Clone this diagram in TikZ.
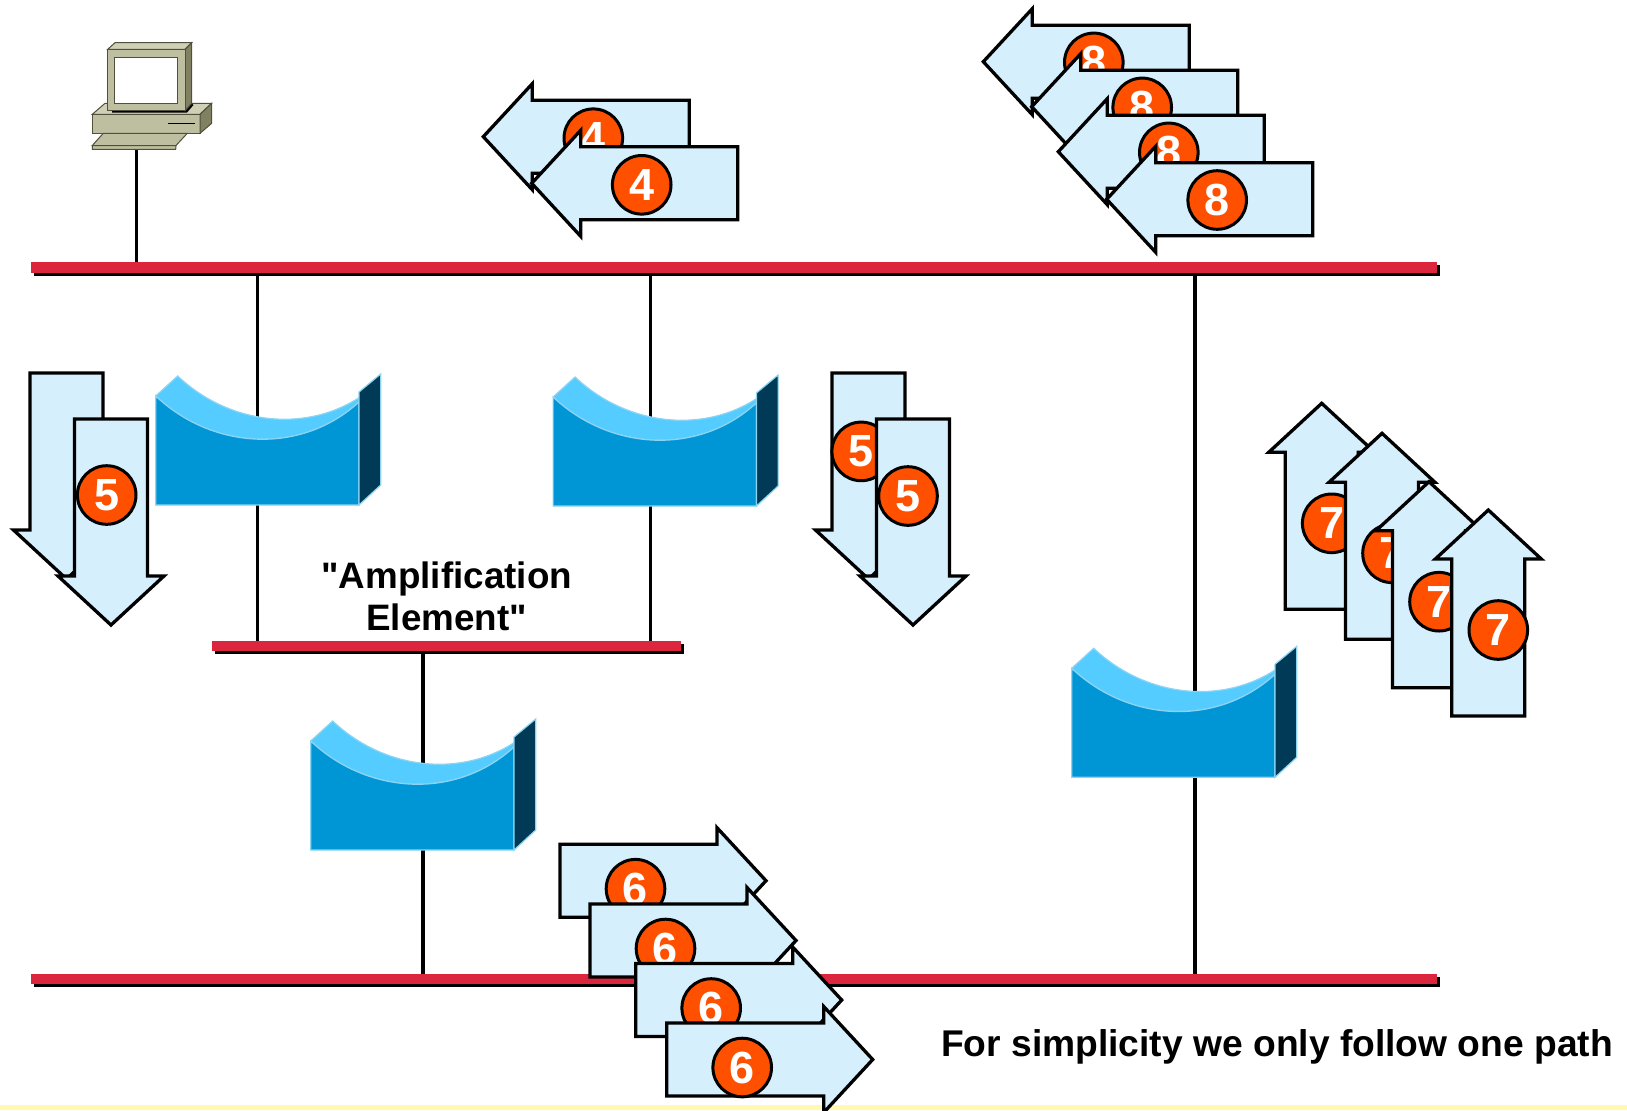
\documentclass[tikz,border=0pt]{standalone}
\usepackage{fontspec}
\setmainfont{Liberation Sans}[Ligatures=TeXOff]
\begin{document}
\begin{tikzpicture}[x=0.5pt,y=-0.5pt,line join=miter]
\definecolor{busred}{RGB}{220,38,62}
\definecolor{arrowfill}{RGB}{213,239,252}
\definecolor{badgefill}{RGB}{255,80,0}
\definecolor{brtop}{RGB}{85,204,255}
\definecolor{brfront}{RGB}{0,150,214}
\definecolor{brside}{RGB}{0,58,86}
\definecolor{bredge}{RGB}{140,212,242}
\definecolor{pcfront}{RGB}{190,190,160}
\definecolor{pctop}{RGB}{208,208,182}
\definecolor{pcside}{RGB}{128,128,98}
\definecolor{pcedge}{RGB}{80,80,60}
\definecolor{stripyellow}{RGB}{255,250,175}
\tikzset{
  wire/.style={line width=1.65pt,draw=black},
  busbar/.style={fill=busred},
  busshadow/.style={fill=black},
  blockarr/.style={fill=arrowfill,draw=black,line width=1.65pt,miter limit=10},
  badge/.style={circle,fill=badgefill,draw=black,line width=1.5pt,minimum size=29.3pt,
    inner sep=0pt,text=white,font=\fontsize{22.5}{22.5}\selectfont\bfseries},
  brface/.style={draw=bredge,line width=0.6pt},
  pcpart/.style={draw=pcedge,line width=0.5pt},
  notetext/.style={font=\fontsize{18.4}{21}\selectfont\bfseries,inner sep=0pt,anchor=base}
}
% block arrow, horizontal: tip x, tip y, +1 points left / -1 points right
\newcommand{\harr}[3]{\draw[blockarr] (#1,#2) -- ++({(#3)*49},-53) -- ++(0,16.5)
  -- ++({(#3)*157},0) -- ++(0,73) -- ++({-(#3)*157},0) -- ++(0,16.5) -- cycle;}
% block arrow, vertical: tip x, tip y, +1 points up / -1 points down
\newcommand{\varr}[3]{\draw[blockarr] (#1,#2) -- ++(-53,{(#3)*49}) -- ++(16.5,0)
  -- ++(0,{(#3)*157}) -- ++(73,0) -- ++(0,{-(#3)*157}) -- ++(16.5,0) -- cycle;}
% bridge box with a concave top, shifted by (#1,#2)
\newcommand{\bridgebox}[2]{\begin{scope}[shift={(#1,#2)}]
  \filldraw[fill=brtop,brface] (155.7,396) -- (177.7,376)
    .. controls (234,429.5) and (322.7,435.5) .. (379,382) -- (359,402)
    .. controls (300.7,455.5) and (212,449.5) .. (155.7,396) -- cycle;
  \filldraw[fill=brfront,brface] (155.7,396)
    .. controls (212,449.5) and (300.7,455.5) .. (359,402)
    -- (359,505) -- (155.7,505) -- cycle;
  \filldraw[fill=brside,brface] (359,392) -- (380.7,374) -- (380.7,485) -- (359,505) -- cycle;
\end{scope}}

\clip (0,0) rectangle (1627,1110);
\useasboundingbox (0,0) rectangle (1627,1110);
\fill[white] (0,0) rectangle (1627,1110);
\fill[stripyellow] (0,1105) rectangle (1627,1110);

% tap points
\coordinate (pcfoot) at (136.7,149.3);
\coordinate (pctap) at (136.7,265);
\coordinate (la) at (257.3,268);  \coordinate (lb) at (257.3,646);
\coordinate (ma) at (650.7,268);  \coordinate (mb) at (650.7,646);
\coordinate (ca) at (423,646);    \coordinate (cb) at (423,979);
\coordinate (ra) at (1195,268);   \coordinate (rb) at (1195,979);

% drops
\draw[wire] (pcfoot) -- (pctap);
\draw[wire] (la) -- (lb);
\draw[wire] (ma) -- (mb);
\draw[wire] (ca) -- (cb);
\draw[wire] (ra) -- (rb);

% segments
\fill[busshadow] (34,265) rectangle (1440,276);
\fill[busbar] (31,262) rectangle (1437,273);
\fill[busshadow] (215,644) rectangle (684,654);
\fill[busbar] (212,641) rectangle (681,651);
\fill[busshadow] (34,977) rectangle (1440,987);
\fill[busbar] (31,974) rectangle (1437,984);

% workstation
\filldraw[fill=pctop,pcpart] (92.3,114.3) -- (105,103.3) -- (211.7,103.3) -- (200,114.3) -- cycle;
\filldraw[fill=pcfront,pcpart] (92.3,114.3) rectangle (200,133.3);
\filldraw[fill=pcside,pcpart] (200,114.3) -- (211.7,103.3) -- (211.7,123.3) -- (200,133.3) -- cycle;
\draw[line width=0.8pt] (168.3,123.3) -- (195,123.3);
\filldraw[fill=pcfront,pcpart] (103.3,133.3) -- (187.3,133.3) -- (176,145.5) -- (92.3,145.5) -- cycle;
\filldraw[fill=pcfront,pcpart] (92.3,145.5) -- (176,145.5) -- (175.7,149.3) -- (92.3,149.3) -- cycle;
\fill[black] (112,110) -- (185,110) -- (191.7,103.5) -- (193.5,105) -- (187,112.5) -- (112,112.5) -- cycle;
\filldraw[fill=pctop,pcpart] (107.7,49.3) -- (115,42.7) -- (191.7,42.7) -- (185,49.3) -- cycle;
\filldraw[fill=pcside,pcpart] (185,49.3) -- (191.7,42.7) -- (191.7,103.3) -- (185,110.7) -- cycle;
\filldraw[fill=pcfront,pcpart] (107.7,49.3) rectangle (185,110.7);
\filldraw[fill=white,pcpart] (114.3,57.3) rectangle (177.3,103.3);

% amplification elements
\bridgebox{0}{0}
\bridgebox{397.4}{1}
\bridgebox{155}{345}
\bridgebox{916}{272.3}

% step 4
\harr{483.3}{136.7}{1}  \node[badge] (s4a) at (593.3,138.2) {4};
\harr{531.7}{183.3}{1}  \node[badge] (s4b) at (641.7,184.8) {4};

% step 8
\harr{983.3}{61.7}{1}   \node[badge] (s8a) at (1093.8,62.4) {8};
\harr{1031.7}{106.7}{1} \node[badge] (s8b) at (1142.2,107.4) {8};
\harr{1058.3}{151.7}{1} \node[badge] (s8c) at (1168.8,152.4) {8};
\harr{1106.7}{199.3}{1} \node[badge] (s8d) at (1217.2,200) {8};

% step 5, left
\varr{66.5}{579}{-1}
\varr{111}{625}{-1}     \node[badge] (s5a) at (106.7,495) {5};

% step 5, middle
\varr{868.5}{579}{-1}   \node[badge] (s5b) at (861.2,451.4) {5};
\varr{913}{625}{-1}     \node[badge] (s5c) at (908,496) {5};

% step 7
\varr{1321.7}{403.3}{1} \node[badge] (s7a) at (1331.7,523.3) {7};
\varr{1382}{433.3}{1}   \node[badge] (s7b) at (1392,553.3) {7};
\varr{1429}{481.7}{1}   \node[badge] (s7c) at (1439,601.7) {7};
\varr{1488.3}{510}{1}   \node[badge] (s7d) at (1498.3,630) {7};

% step 6
\harr{766}{880.7}{-1}   \node[badge] (s6a) at (635.5,888.7) {6};
\harr{796}{940.5}{-1}   \node[badge] (s6b) at (665.5,948.5) {6};
\harr{841.7}{1000}{-1}  \node[badge] (s6c) at (711.2,1008) {6};
\harr{872.7}{1059.5}{-1}\node[badge] (s6d) at (742.2,1067.5) {6};

% captions
\node[notetext] (amp1) at (446.7,588) {"Amplification};
\node[notetext] (amp2) at (446.7,630) {Element"};
\node[notetext,font=\fontsize{18.6}{21}\selectfont\bfseries] (note) at (1277,1056)
  {For simplicity we only follow one path};
\end{tikzpicture}
\end{document}
